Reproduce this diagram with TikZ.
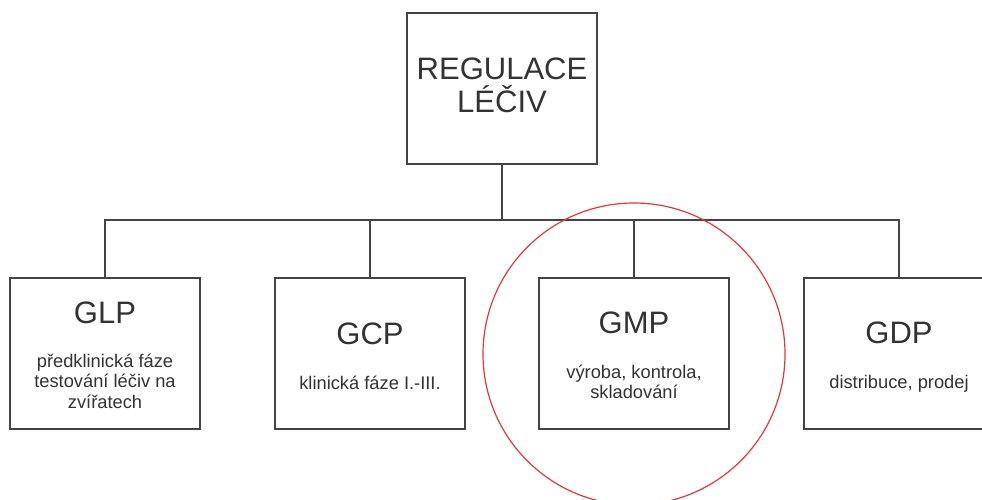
\documentclass[tikz,border=0pt]{standalone}
\usepackage{fontspec}
\setmainfont{Liberation Sans}
\definecolor{linegray}{HTML}{444444}
\definecolor{txtgray}{HTML}{333333}
\definecolor{ringred}{HTML}{E5383B}
\tikzset{
  box/.style={draw=linegray, line width=1.5pt, fill=white, minimum width=190pt, minimum height=151pt, inner sep=0pt, outer sep=0pt},
  conn/.style={draw=linegray, line width=1.5pt},
  bigtxt/.style={anchor=base, text=txtgray, inner sep=0pt, font=\fontsize{31}{33}\selectfont},
  smalltxt/.style={anchor=base, text=txtgray, inner sep=0pt, font=\fontsize{18.3}{20}\selectfont},
}
\begin{document}
\begin{tikzpicture}[x=1pt,y=-1pt]
\useasboundingbox (0,0) rectangle (982,500);
\clip (0,0) rectangle (982,500);
\fill[white] (0,0) rectangle (982,500);
% boxes
\node[box] (top) at (502,88.5) {};
\node[box] (glp) at (105,353.5) {};
\node[box] (gcp) at (370,353.5) {};
\node[box] (gmp) at (634,353.5) {};
\node[box] (gdp) at (899,353.5) {};
\coordinate (j) at (502,220);
% connectors
\draw[conn] (top.south) -- (j);
\draw[conn] (glp.north) |- (j) -| (gdp.north);
\draw[conn] (gcp.north) -- (gcp.north |- j);
\draw[conn] (gmp.north) -- (gmp.north |- j);
% texts
\node[bigtxt] (t1) at (502,80) {REGULACE};
\node[bigtxt] (t2) at (502,113) {LÉČIV};
\node[bigtxt] (h1) at (105,323) {GLP};
\node[smalltxt] (s1a) at (105,367) {předklinická fáze};
\node[smalltxt] (s1b) at (105,387.5) {testování léčiv na};
\node[smalltxt] (s1c) at (105,408) {zvířatech};
\node[bigtxt] (h2) at (370,344) {GCP};
\node[smalltxt] (s2) at (370,389) {klinická fáze I.-III.};
\node[bigtxt] (h3) at (634,333) {GMP};
\node[smalltxt] (s3a) at (634,378) {výroba, kontrola,};
\node[smalltxt] (s3b) at (634,398) {skladování};
\node[bigtxt] (h4) at (899,343) {GDP};
\node[smalltxt] (s4) at (899,388) {distribuce, prodej};
% red ring
\draw[ringred, line width=1.2pt] (634,354) circle (151);
\end{tikzpicture}
\end{document}
